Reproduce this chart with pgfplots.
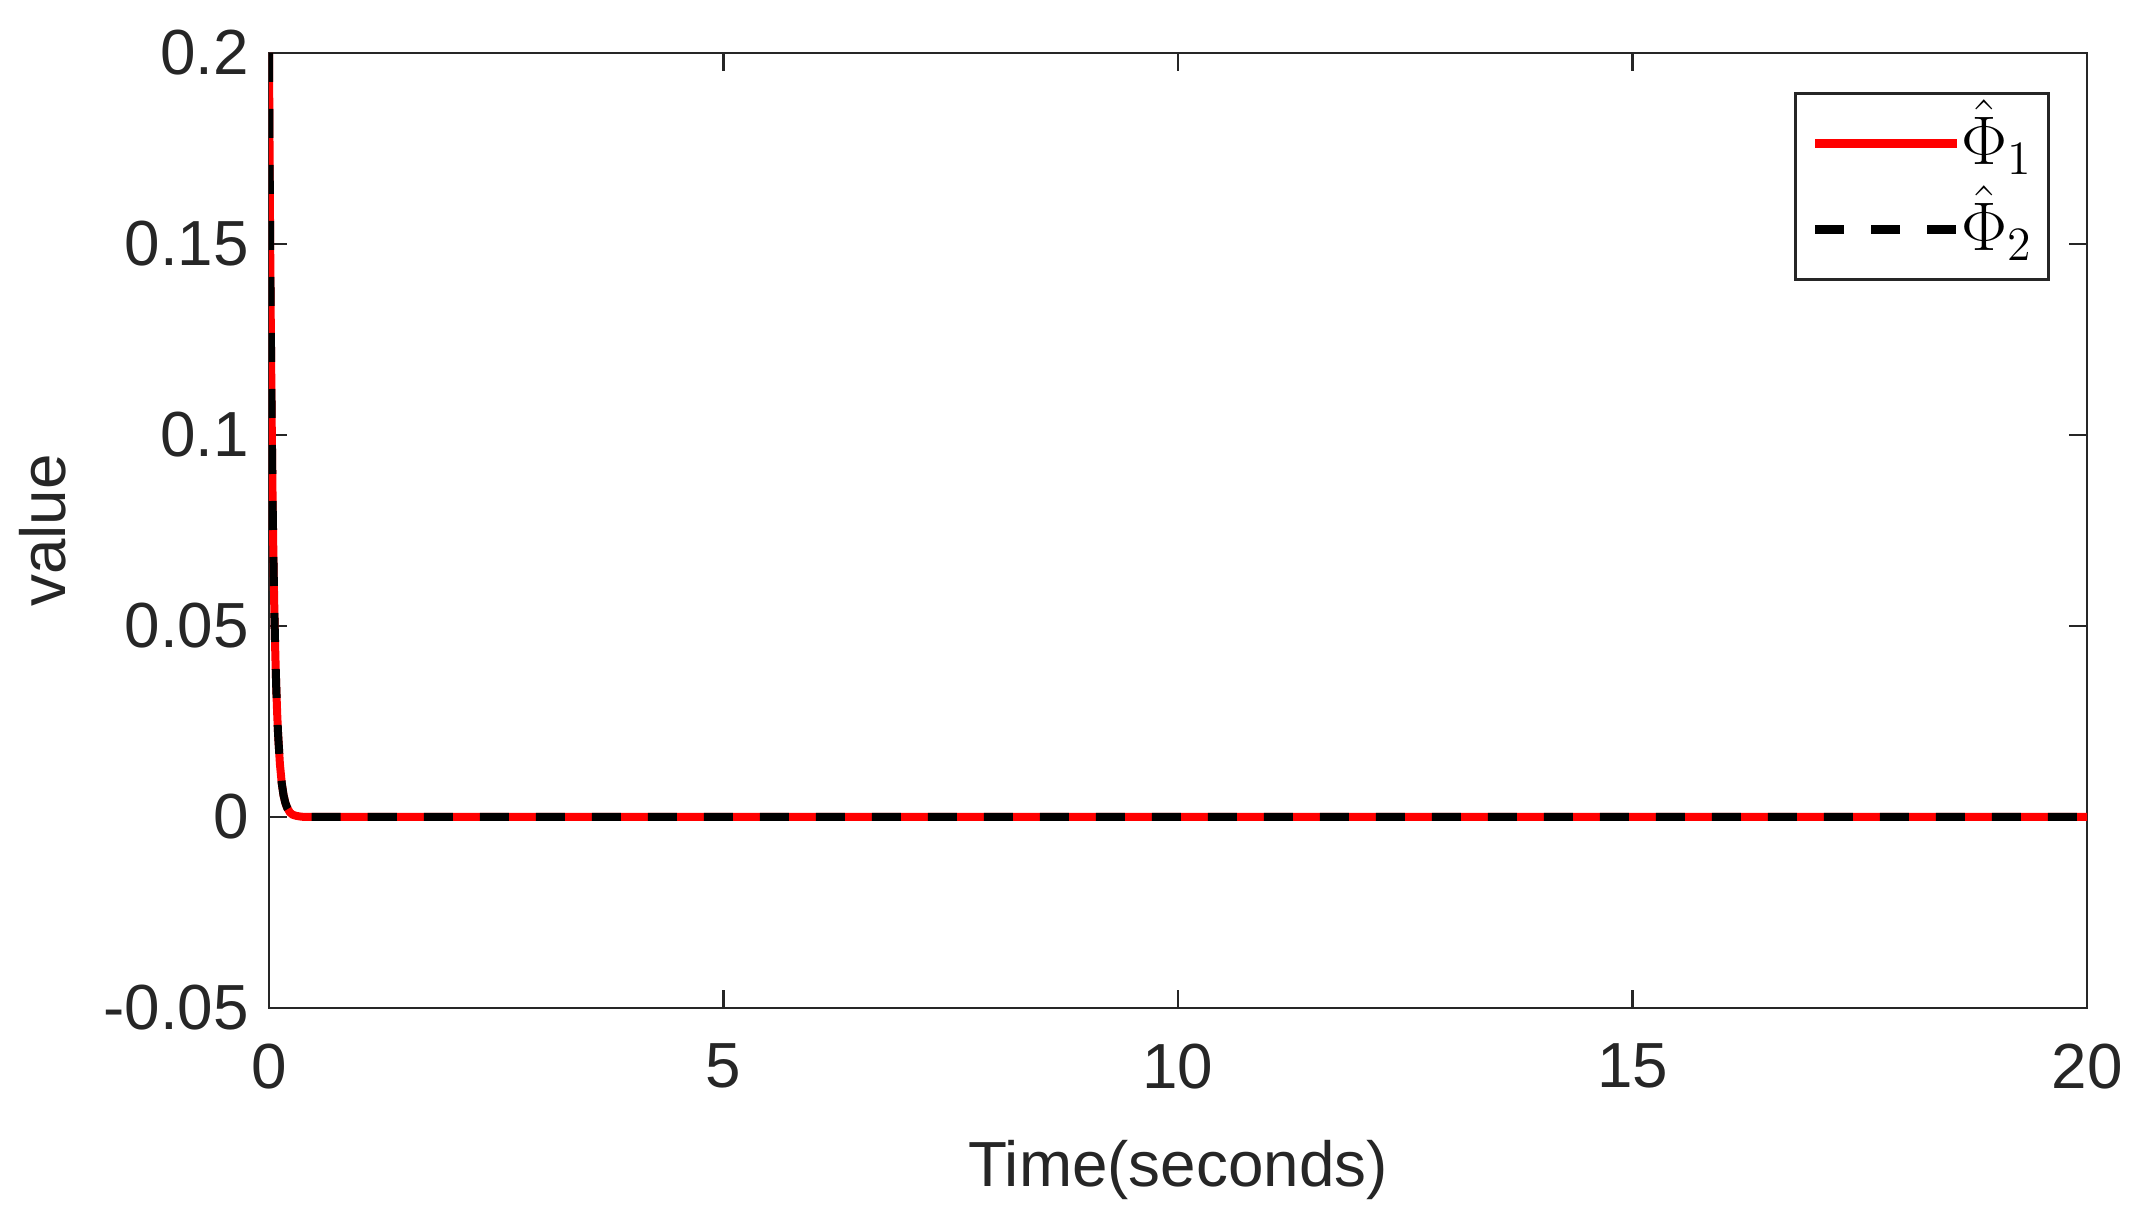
\documentclass[border=0pt]{standalone}
\usepackage{fontspec}
\setmainfont{Liberation Sans}
\usepackage{pgfplots}
\usepackage{pgfplotstable}
\pgfplotsset{compat=1.18}
\definecolor{axgray}{RGB}{38,38,38}

\pgfplotstableread{
t v
0 0.2000
0.005 0.1790
0.01 0.1601
0.015 0.1433
0.02 0.1283
0.03 0.1027
0.04 0.0822
0.05 0.0658
0.06 0.0527
0.07 0.0422
0.08 0.0338
0.09 0.0271
0.10 0.0217
0.12 0.0139
0.14 0.0089
0.16 0.0057
0.18 0.0037
0.20 0.0024
0.23 0.0012
0.26 0.0006
0.30 0.0003
0.35 0.0001
0.40 0.0000
20 0
}\datatab

\begin{document}
\begin{tikzpicture}
\begin{axis}[
  scale only axis, width=454.5bp, height=238.75bp,
  xmin=0, xmax=20, ymin=-0.05, ymax=0.2,
  xtick={0,5,10,15,20}, xticklabels={0,5,10,15,20},
  ytick={-0.05,0,0.05,0.1,0.15,0.2}, yticklabels={-0.05,0,0.05,0.1,0.15,0.2},
  tick align=inside, major tick length=4.5bp,
  axis line style={axgray, line width=0.67bp},
  every tick/.style={axgray, line width=0.67bp},
  tick label style={font=\fontsize{16}{19}\selectfont, text=axgray},
  xticklabel style={yshift=-5.5bp},
  yticklabel style={xshift=-1.5bp},
  label style={font=\fontsize{16}{19}\selectfont, text=axgray},
  xlabel={Time(seconds)}, ylabel={value},
  xlabel style={at={(axis description cs:0.5,-0.18743)}, anchor=base},
  ylabel style={at={(axis description cs:-0.11166,0.5)}, anchor=base},
  legend style={at={(axis description cs:1,1)}, anchor=north east,
    xshift=-9.25bp, yshift=-9.75bp, draw=axgray, line width=0.75bp,
    inner xsep=4bp, inner ysep=2.25bp, font=\fontsize{17}{20}\selectfont,
    row sep=1bp,
    nodes={inner sep=0pt, text height=15.5bp, text depth=5bp},
    /tikz/every even column/.append style={column sep=3.25bp}},
  legend cell align=left,
  legend image code/.code={\draw[#1] (0bp,0bp) -- (35.5bp,0bp);},
]
\addplot[red, line width=2bp] table[x=t, y=v] {\datatab};
\addlegendentry{$\hat{\Phi}_1$}
\addplot[black, line width=2bp, dash pattern=on 7.25bp off 6.75bp] table[x=t, y=v] {\datatab};
\addlegendentry{$\hat{\Phi}_2$}
\end{axis}
\path ([xshift=-67.25bp,yshift=-51.5bp]current axis.south west) rectangle ([xshift=13.75bp,yshift=13.25bp]current axis.north east);
\end{tikzpicture}
\end{document}
